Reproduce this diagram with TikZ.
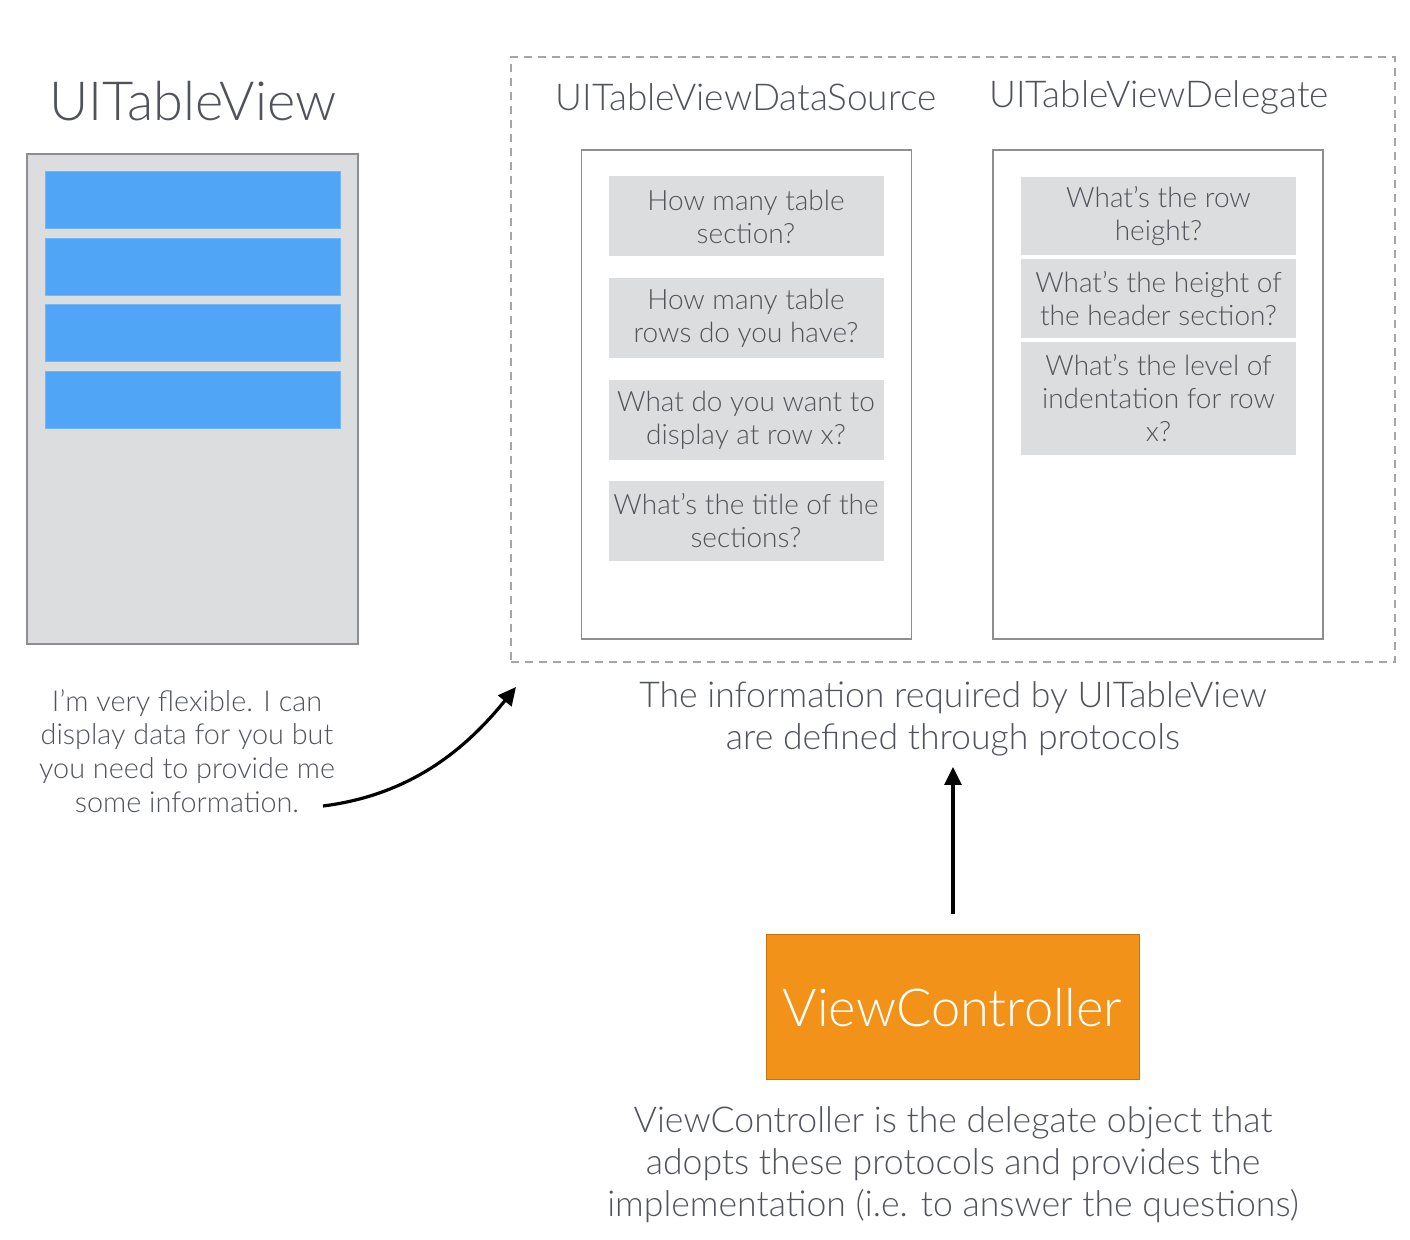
\documentclass[tikz,border=0pt]{standalone}
\usepackage{fontspec}
\setmainfont{Lato}[UprightFont={* Light}]
\usetikzlibrary{arrows.meta}
\definecolor{txt}{HTML}{50545A}
\definecolor{panel}{HTML}{DCDDDF}
\definecolor{rowblue}{HTML}{51A5F7}
\definecolor{vcorange}{HTML}{F29219}
\definecolor{edge}{HTML}{8E8E90}
\tikzset{
  qbox/.style={fill=panel, minimum width=137.5pt, inner sep=0pt, align=center, text=txt,
    font=\fontsize{14}{16.5}\selectfont},
  rowbox/.style={fill=rowblue, draw=rowblue!80!white, line width=0.4pt, minimum width=147.5pt, minimum height=28.5pt, inner sep=0pt},
  holder/.style={draw=edge, line width=0.6pt, fill=white, minimum width=165pt, minimum height=244.5pt, inner sep=0pt},
  heading/.style={text=txt, inner sep=0pt, font=\fontsize{18.5}{20}\selectfont},
  caption/.style={text=txt, align=center, inner sep=0pt},
  arrowline/.style={line width=1.6pt, -{Triangle[length=9pt,width=8.5pt]}},
}
\begin{document}
\begin{tikzpicture}[x=0.5pt,y=-0.5pt]
\path[use as bounding box, fill=white] (0,0) rectangle (1410,1240);

% UITableView
\node[text=txt, inner sep=0pt, font=\fontsize{27}{30}\selectfont] (tvtitle) at (193,101) {UITableView};
\node[draw=edge, line width=0.8pt, fill=panel, minimum width=165.5pt, minimum height=245pt, inner sep=0pt] (tv) at (192.5,399) {};
\node[rowbox] (r1) at (192.5,200) {};
\node[rowbox] (r2) at (192.5,266.5) {};
\node[rowbox] (r3) at (192.5,332.5) {};
\node[rowbox] (r4) at (192.5,399.5) {};

\node[caption, font=\fontsize{14.4}{16.8}\selectfont] (note) at (187,751) {I’m very flexible. I can\\display data for you but\\you need to provide me\\some information.};

% protocols container
\node[draw=edge!80, dashed, dash pattern=on 4pt off 3pt, line width=0.6pt, minimum width=442pt, minimum height=302.5pt, inner sep=0pt] (proto) at (953,359.5) {};

\node[heading] (dsh) at (746,97) {UITableViewDataSource};
\node[heading] (dgh) at (1159,97) {UITableViewDelegate};

\node[holder] (ds) at (746.5,394.5) {};
\node[holder] (dg) at (1158,394.5) {};

\node[qbox, minimum height=40pt] (q1) at (746,216.5) {How many table\\section?};
\node[qbox, minimum height=40pt] (q2) at (746,318) {How many table\\rows do you have?};
\node[qbox, minimum height=40pt] (q3) at (746,420) {What do you want to\\display at row x?};
\node[qbox, minimum height=40pt] (q4) at (746,521) {What’s the title of the\\sections?};

\node[qbox, minimum height=39pt] (d1) at (1158.5,216) {What’s the row\\height?};
\node[qbox, minimum height=39.5pt] (d2) at (1158.5,298.5) {What’s the height of\\the header section?};
\node[qbox, minimum height=56.5pt] (d3) at (1158.5,398.5) {What’s the level of\\indentation for row\\x?};

\node[caption, font=\fontsize{17.8}{21}\selectfont] (info) at (953,719) {The information required by UITableView\\are defined through protocols};

% ViewController
\node[fill=vcorange, draw=vcorange!80!black, line width=0.5pt, minimum width=186.5pt, minimum height=72.5pt, inner sep=0pt, text=white, font=\fontsize{26.2}{30}\selectfont] (vc) at (952.5,1007.5) {ViewController};

\node[caption, font=\fontsize{17.8}{21}\selectfont] (vcnote) at (953,1165) {ViewController is the delegate object that\\adopts these protocols and provides the\\implementation (i.e. to answer the questions)};

% connectors
\coordinate (c1) at (323,806);
\coordinate (c2) at (516,687);
\draw[arrowline] (c1) .. controls (410,795) and (465,750) .. (c2);

\coordinate (v1) at (953,914);
\coordinate (v2) at (953,767);
\draw[arrowline] (v1) -- (v2);
\end{tikzpicture}
\end{document}
